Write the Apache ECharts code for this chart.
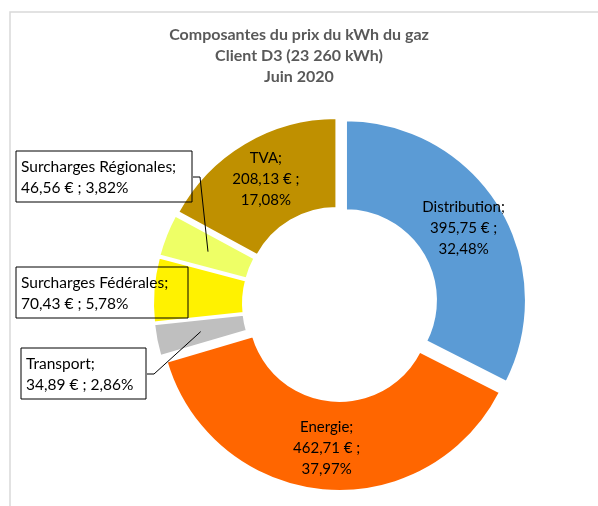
<!DOCTYPE html>
<html>
<head>
<meta charset="utf-8">
<script src="https://cdn.jsdelivr.net/npm/echarts@6/dist/echarts.min.js"></script>
<style>
  html, body { margin: 0; padding: 0; background: #fff; }
  #chart { width: 598px; height: 506px; }
</style>
</head>
<body>
<div id="chart"></div>
<script>
// data
const titleLines = ['Composantes du prix du kWh du gaz', 'Client D3 (23 260 kWh)', 'Juin 2020'];
const categories = ['Distribution', 'Energie', 'Transport', 'Surcharges Fédérales', 'Surcharges Régionales', 'TVA'];
const values = [395.75, 462.71, 34.89, 70.43, 46.56, 208.13];

// styles
const sliceColors = ['#5b9bd5', '#ff6600', '#bfbfbf', '#fff200', '#eeff66', '#bf9000'];
const FONT = 'Lato';
const CX = 340, CY = 304, R0 = 90, R1 = 180, OFFSET = 7;

// small nudges for the labels drawn inside the ring
const insideOffsets = { 0: [-3, 5], 5: [4, 0] };

// boxed labels sitting outside the ring
const boxes = {
  2: { x: 21, y: 348, width: 115, line: true },
  3: { x: 16, y: 267, width: 162, line: false },
  4: { x: 16, y: 151, width: 166, line: true },
};

const total = values.reduce((a, b) => a + b, 0);
const fr = v => v.toFixed(2).replace('.', ',');
const pct = v => fr(v / total * 100);

// point in the middle of an exploded slice (where the leader line ends)
function midPoint(i) {
  let before = 0;
  for (let k = 0; k < i; k++) before += values[k];
  const a = (90 - (before + values[i] / 2) / total * 360) * Math.PI / 180;
  const r = (R0 + R1) / 2 + OFFSET;
  return [CX + r * Math.cos(a), CY - r * Math.sin(a)];
}

const chart = echarts.init(document.getElementById('chart'));

// ring: every slice pulled out a little, big slices labelled inside
const ringData = categories.map((name, i) => ({
  name,
  value: values[i],
  selected: true,
  itemStyle: { color: sliceColors[i] },
  label: { show: !boxes[i], offset: insideOffsets[i] || [0, 0] },
}));

// invisible copy of the ring that only carries the boxed labels
const boxData = categories.map((name, i) => {
  const b = boxes[i];
  if (!b) return { name, value: values[i], label: { show: false }, labelLine: { show: false } };
  return {
    name,
    value: values[i],
    label: { show: true, width: b.width },
    labelLine: { show: b.line },
  };
});

chart.setOption({
  animation: false,
  backgroundColor: '#fff',
  title: {
    text: titleLines.join('\n'),
    left: 'center',
    top: 19,
    textStyle: {
      fontFamily: FONT,
      fontWeight: 'bold',
      fontSize: 16,
      lineHeight: 21,
      color: '#595959',
    },
  },
  graphic: [{
    type: 'rect',
    silent: true,
    shape: { x: 10, y: 12, width: 700, height: 700 },
    style: { fill: 'none', stroke: '#d9d9d9', lineWidth: 1.5 },
  }],
  series: [
    {
      type: 'pie',
      center: [CX, CY],
      radius: [R0, R1],
      startAngle: 90,
      clockwise: true,
      avoidLabelOverlap: false,
      selectedMode: 'multiple',
      selectedOffset: OFFSET,
      itemStyle: { borderColor: '#fff', borderWidth: 2 },
      select: { itemStyle: { borderColor: '#fff', borderWidth: 2 } },
      emphasis: { disabled: true },
      label: {
        position: 'inside',
        fontFamily: FONT,
        fontSize: 15,
        lineHeight: 21,
        color: '#000',
        formatter: p => `${p.name};\n${fr(p.value)} € ;\n${pct(p.value)}%`,
      },
      labelLine: { show: false },
      data: ringData,
    },
    {
      type: 'pie',
      z: 3,
      silent: true,
      center: [CX, CY],
      radius: [R0, R1],
      startAngle: 90,
      clockwise: true,
      avoidLabelOverlap: false,
      itemStyle: { color: 'rgba(0,0,0,0)', borderWidth: 0 },
      emphasis: { disabled: true },
      label: {
        position: 'outside',
        fontFamily: FONT,
        fontSize: 15.5,
        lineHeight: 21,
        color: '#000',
        align: 'left',
        borderColor: '#000',
        borderWidth: 1,
        padding: [5, 5, 4, 5],
        formatter: p => `${p.name};\n${fr(p.value)} € ; ${pct(p.value)}%`,
      },
      labelLine: { showAbove: true, lineStyle: { color: '#000', width: 1 } },
      labelLayout: params => {
        const b = boxes[params.dataIndex];
        if (!b) return {};
        const out = { x: b.x, y: b.y, align: 'left', verticalAlign: 'top' };
        if (b.line) {
          const right = b.x + params.labelRect.width;
          const midY = b.y + params.labelRect.height / 2;
          out.labelLinePoints = [[right, midY], [right + 7, midY], midPoint(params.dataIndex)];
        }
        return out;
      },
      data: boxData,
    },
  ],
});
</script>
</body>
</html>
